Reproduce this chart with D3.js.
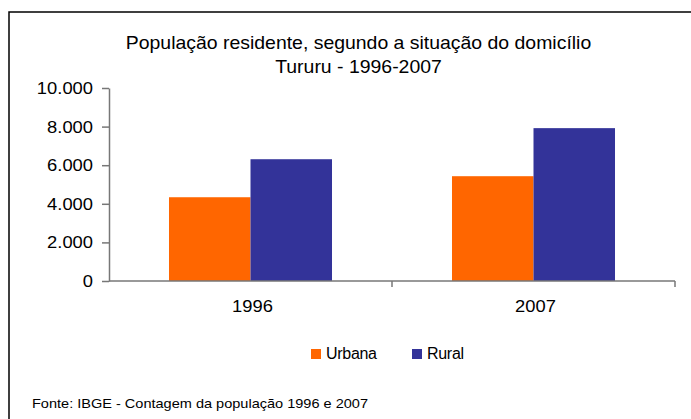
<!DOCTYPE html>
<html>
<head>
<meta charset="utf-8">
<script src="https://cdn.jsdelivr.net/npm/d3@7"></script>
<style>
  body { margin: 0; background: #fff; }
  text { font-family: "Liberation Sans", Arial, sans-serif; fill: #000; }
</style>
</head>
<body>
<script>
// data
const years = ["1996", "2007"];
const series = ["Urbana", "Rural"];
const urbana = [4340, 5430];
const rural = [6310, 7920];
const yTicks = [0, 2000, 4000, 6000, 8000, 10000];
const colors = ["#FF6600", "#333399"];

const width = 691, height = 419;
const stretch = 1.08; // the original text is drawn slightly wide

const svg = d3.select("body").append("svg")
    .attr("width", width)
    .attr("height", height);

// outer frame (top and left edges visible)
svg.append("path")
    .attr("d", "M9,419 V12 H691")
    .attr("fill", "none")
    .attr("stroke", "#000")
    .attr("stroke-width", 1.5);

// title
const titles = ["População residente, segundo a situação do domicílio", "Tururu - 1996-2007"];
svg.append("g").selectAll("text")
    .data(titles)
    .join("text")
    .attr("transform", (d, i) => `translate(358.5,${49 + i * 24}) scale(${stretch},1)`)
    .attr("text-anchor", "middle")
    .attr("font-size", 18)
    .text(d => d);

const x0 = 109, x1 = 675, yTop = 88, yBottom = 281;

const x = d3.scaleBand().domain(years).range([x0, x1])
    .paddingInner(0.424).paddingOuter(0.212);
const xs = d3.scaleBand().domain(series).range([0, x.bandwidth()]);
const y = d3.scaleLinear().domain([0, 10000]).range([yBottom, yTop]);

const rows = years.map((yr, i) => ({ year: yr, values: [urbana[i], rural[i]] }));

// bars
svg.append("g").selectAll("g")
    .data(rows)
    .join("g")
    .attr("transform", d => `translate(${x(d.year)},0)`)
    .selectAll("rect")
    .data(d => d.values.map((v, j) => ({ key: series[j], v: v, j: j })))
    .join("rect")
    .attr("x", d => xs(d.key))
    .attr("width", xs.bandwidth())
    .attr("y", d => y(d.v))
    .attr("height", d => y(0) - y(d.v))
    .attr("fill", d => colors[d.j]);

// y axis
const fmt = v => d3.format(",")(v).replace(/,/g, ".");
const yAxis = svg.append("g")
    .attr("transform", `translate(${x0},0)`)
    .call(d3.axisLeft(y).tickValues(yTicks).tickFormat(fmt).tickSize(7).tickSizeOuter(0).tickPadding(8));
yAxis.select(".domain").attr("stroke", "#777").attr("stroke-width", 1.5);
yAxis.selectAll(".tick line").attr("stroke", "#777").attr("stroke-width", 1.5);
yAxis.selectAll("text")
    .attr("font-size", 17)
    .attr("font-family", "Liberation Sans, Arial, sans-serif")
    .attr("fill", "#000")
    .attr("transform", `scale(${stretch},1)`)
    .attr("x", -16 / stretch);

// x axis: baseline with category boundary ticks
const xAxisG = svg.append("g");
xAxisG.append("line")
    .attr("x1", x0).attr("x2", x1)
    .attr("y1", y(0)).attr("y2", y(0))
    .attr("stroke", "#777").attr("stroke-width", 1.5);
const bounds = [x0 + x.step() * 1, x0 + x.step() * 2];
xAxisG.selectAll("line.b")
    .data(bounds)
    .join("line")
    .attr("class", "b")
    .attr("x1", d => d).attr("x2", d => d)
    .attr("y1", y(0)).attr("y2", y(0) + 6)
    .attr("stroke", "#777").attr("stroke-width", 1.5);
xAxisG.selectAll("text")
    .data(years)
    .join("text")
    .attr("transform", d => `translate(${x(d) + x.bandwidth() / 2 + 2},312) scale(${stretch},1)`)
    .attr("text-anchor", "middle")
    .attr("font-size", 17)
    .text(d => d);

// legend
const legendX = [311, 412];
const lg = svg.append("g").selectAll("g")
    .data(series)
    .join("g")
    .attr("transform", (d, i) => `translate(${legendX[i]},349)`);
lg.append("rect")
    .attr("width", 10).attr("height", 10)
    .attr("fill", (d, i) => colors[i]);
lg.append("text")
    .attr("x", 15).attr("y", 10)
    .attr("font-size", 16)
    .attr("letter-spacing", -0.3)
    .text(d => d);

// source note
svg.append("text")
    .attr("x", 32).attr("y", 408)
    .attr("font-size", 13)
    .attr("textLength", 336)
    .attr("lengthAdjust", "spacingAndGlyphs")
    .text("Fonte: IBGE - Contagem da população 1996 e 2007");
</script>
</body>
</html>
